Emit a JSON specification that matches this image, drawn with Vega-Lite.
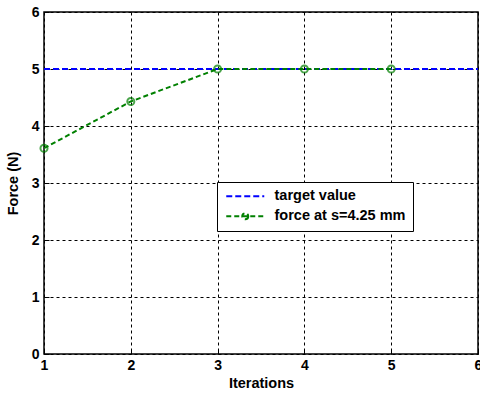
{
  "$schema": "https://vega.github.io/schema/vega-lite/v6.json",
  "width": 434,
  "height": 342,
  "autosize": {"type": "none"},
  "padding": {"left": 44, "top": 12, "right": 2, "bottom": 40},
  "background": "white",
  "config": {
    "view": {"stroke": "black", "strokeWidth": 1.5},
    "font": "Liberation Sans",
    "axis": {
      "domain": false,
      "gridColor": "black",
      "gridDash": [3, 3],
      "gridOpacity": 1,
      "gridWidth": 1,
      "tickColor": "black",
      "tickSize": -5,
      "labelFont": "Liberation Sans",
      "labelFontWeight": "bold",
      "labelFontSize": 14,
      "labelColor": "black",
      "titleFont": "Liberation Sans",
      "titleFontWeight": "bold",
      "titleFontSize": 14.5,
      "titleColor": "black"
    }
  },
  "data": {
    "values": [
      {"iter": 1, "force": 5, "series": "target value"},
      {"iter": 6, "force": 5, "series": "target value"},
      {"iter": 1, "force": 3.61, "series": "force at s=4.25 mm"},
      {"iter": 2, "force": 4.43, "series": "force at s=4.25 mm"},
      {"iter": 3, "force": 5, "series": "force at s=4.25 mm"},
      {"iter": 4, "force": 5, "series": "force at s=4.25 mm"},
      {"iter": 5, "force": 5, "series": "force at s=4.25 mm"}
    ]
  },
  "encoding": {
    "x": {
      "field": "iter", "type": "quantitative",
      "scale": {"domain": [1, 6], "nice": false},
      "axis": {"title": "Iterations", "values": [1, 2, 3, 4, 5, 6], "format": "d", "labelPadding": 9, "titleY": 22, "titleBaseline": "top", "labelFlush": false}
    },
    "y": {
      "field": "force", "type": "quantitative",
      "scale": {"domain": [0, 6], "nice": false},
      "axis": {"title": "Force (N)", "values": [0, 1, 2, 3, 4, 5, 6], "format": "d", "labelPadding": 10, "titleX": -24, "labelFlush": false}
    },
    "color": {
      "field": "series", "type": "nominal",
      "scale": {"domain": ["target value", "force at s=4.25 mm"], "range": ["#0000ff", "#008000"]},
      "legend": {
        "title": null,
        "orient": "none",
        "legendX": 173,
        "legendY": 170,
        "symbolSize": 100,
        "symbolStrokeWidth": 2,
        "labelFont": "Liberation Sans",
        "labelFontWeight": "bold",
        "labelFontSize": 14.5,
        "labelColor": "black",
        "labelLimit": 300,
        "strokeColor": "black",
        "fillColor": "white",
        "padding": 7,
        "rowPadding": 5,
        "labelOffset": 36,
        "encode": {
          "symbols": {
            "update": {
              "shape": {"signal": "datum.value == 'target value' ? 'M-1,0L6.6,0' : 'M-1,0L6.6,0M3.4,0A0.6,0.6 0 1 1 2.2,0A0.6,0.6 0 1 1 3.4,0'"},
              "strokeDash": {"signal": "datum.value == 'target value' ? [5, 3] : [4, 3]"},
              "fill": {"value": "transparent"},
              "strokeWidth": {"value": 2}
            }
          }
        }
      }
    }
  },
  "layer": [
    {
      "mark": {"type": "line", "strokeWidth": 2},
      "encoding": {
        "strokeDash": {
          "field": "series", "type": "nominal",
          "scale": {"domain": ["target value", "force at s=4.25 mm"], "range": [[6, 3], [5, 3]]},
          "legend": null
        }
      }
    },
    {
      "transform": [{"filter": "datum.series == 'force at s=4.25 mm'"}],
      "mark": {"type": "point", "shape": "circle", "size": 50, "strokeWidth": 2, "filled": false}
    }
  ]
}
